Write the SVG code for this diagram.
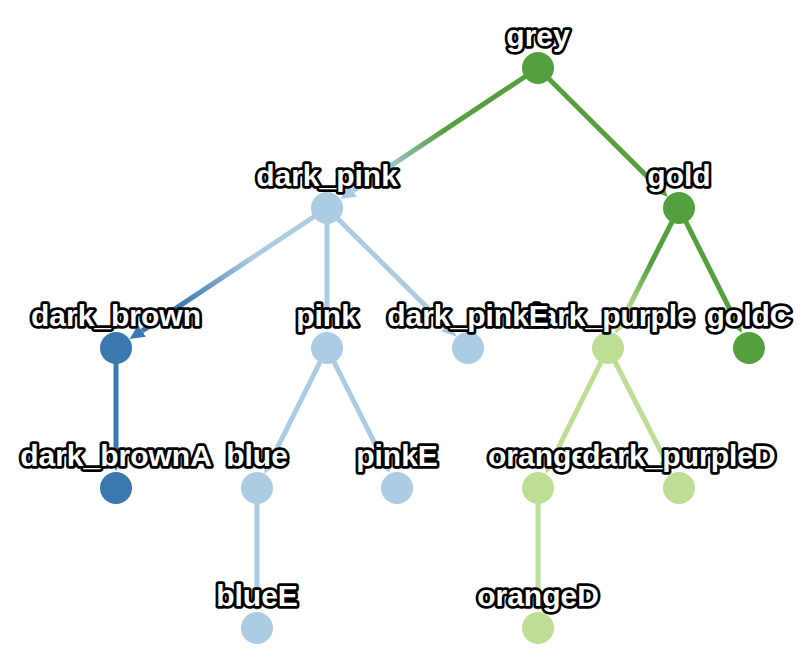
<svg xmlns="http://www.w3.org/2000/svg" width="808" height="660" viewBox="0 0 808 660">
<style>
.edge{fill:none;stroke-width:5;}
.lb{fill:#abcce2;}
.db{fill:#3c78b0;}
.lg{fill:#bede96;}
.dg{fill:#54a03e;}
.lbs{stroke:#abcce2;}
.dbs{stroke:#3c78b0;}
.lgs{stroke:#bede96;}
.dgs{stroke:#54a03e;}
text{font-family:"Liberation Sans",Arial,sans-serif;font-weight:bold;font-size:30px;fill:#fff;stroke:#000;stroke-width:5.5;stroke-linejoin:round;paint-order:stroke;text-anchor:middle;}
</style>
<defs>
<marker id="m-lb" markerUnits="userSpaceOnUse" markerWidth="16" markerHeight="14" refX="0" refY="7" orient="auto"><path d="M0,0 L15,7 L0,14 z" class="lb"/></marker>
<marker id="m-db" markerUnits="userSpaceOnUse" markerWidth="16" markerHeight="14" refX="0" refY="7" orient="auto"><path d="M0,0 L15,7 L0,14 z" class="db"/></marker>
<marker id="m-lg" markerUnits="userSpaceOnUse" markerWidth="16" markerHeight="14" refX="0" refY="7" orient="auto"><path d="M0,0 L15,7 L0,14 z" class="lg"/></marker>
<marker id="m-dg" markerUnits="userSpaceOnUse" markerWidth="16" markerHeight="14" refX="0" refY="7" orient="auto"><path d="M0,0 L15,7 L0,14 z" class="dg"/></marker>
<linearGradient id="g1" gradientUnits="userSpaceOnUse" x1="538" y1="68" x2="327" y2="208"><stop offset="0.45" stop-color="#54a03e"/><stop offset="0.75" stop-color="#abcce2"/></linearGradient>
<linearGradient id="g2" gradientUnits="userSpaceOnUse" x1="327" y1="208" x2="116" y2="348"><stop offset="0.35" stop-color="#abcce2"/><stop offset="0.7" stop-color="#3c78b0"/></linearGradient>
<linearGradient id="g3" gradientUnits="userSpaceOnUse" x1="679" y1="208" x2="608" y2="348"><stop offset="0.4" stop-color="#54a03e"/><stop offset="0.75" stop-color="#bede96"/></linearGradient>
</defs>
<g id="connectors">
<path class="edge" stroke="url(#g1)" d="M538,68 L353.0,190.8" marker-end="url(#m-lb)"/>
<path class="edge dgs" d="M538,68 L657.0,186.2" marker-end="url(#m-dg)"/>
<path class="edge" stroke="url(#g2)" d="M327,208 L142.0,330.8" marker-end="url(#m-db)"/>
<path class="edge lbs" d="M327,208 L327,316" marker-end="url(#m-lb)"/>
<path class="edge lbs" d="M327,208 L446.0,326.2" marker-end="url(#m-lb)"/>
<path class="edge" stroke="url(#g3)" d="M679,208 L622.1,320.4" marker-end="url(#m-lg)"/>
<path class="edge dgs" d="M679,208 L735.0,319.6" marker-end="url(#m-dg)"/>
<path class="edge dbs" d="M116,348 L116,456" marker-end="url(#m-db)"/>
<path class="edge lbs" d="M327,348 L271.1,460.3" marker-end="url(#m-lb)"/>
<path class="edge lbs" d="M327,348 L383.0,459.6" marker-end="url(#m-lb)"/>
<path class="edge lgs" d="M608,348 L552.1,460.3" marker-end="url(#m-lg)"/>
<path class="edge lgs" d="M608,348 L665.0,459.6" marker-end="url(#m-lg)"/>
<path class="edge lbs" d="M257,488 L257,596" marker-end="url(#m-lb)"/>
<path class="edge lgs" d="M538,488 L538,596" marker-end="url(#m-lg)"/>
</g>
<g id="node-grey"><circle cx="538" cy="68" r="16" class="dg"/><text x="538" y="46">grey</text></g>
<g id="node-dark_pink"><circle cx="327" cy="208" r="16" class="lb"/><text x="327" y="186">dark_pink</text></g>
<g id="node-gold"><circle cx="679" cy="208" r="16" class="dg"/><text x="679" y="186">gold</text></g>
<g id="node-dark_brown"><circle cx="116" cy="348" r="16" class="db"/><text x="116" y="326">dark_brown</text></g>
<g id="node-pink"><circle cx="327" cy="348" r="16" class="lb"/><text x="327" y="326">pink</text></g>
<g id="node-dark_purple"><circle cx="608" cy="348" r="16" class="lg"/><text x="608" y="326">dark_purple</text></g>
<g id="node-dark_pinkE"><circle cx="468" cy="348" r="16" class="lb"/><text x="468" y="326">dark_pinkE</text></g>
<g id="node-goldC"><circle cx="749" cy="348" r="16" class="dg"/><text x="749" y="326">goldC</text></g>
<g id="node-dark_brownA"><circle cx="116" cy="488" r="16" class="db"/><text x="116" y="466">dark_brownA</text></g>
<g id="node-blue"><circle cx="257" cy="488" r="16" class="lb"/><text x="257" y="466">blue</text></g>
<g id="node-pinkE"><circle cx="397" cy="488" r="16" class="lb"/><text x="397" y="466">pinkE</text></g>
<g id="node-orange"><circle cx="538" cy="488" r="16" class="lg"/><text x="538" y="466">orange</text></g>
<g id="node-dark_purpleD"><circle cx="679" cy="488" r="16" class="lg"/><text x="679" y="466">dark_purpleD</text></g>
<g id="node-blueE"><circle cx="257" cy="628" r="16" class="lb"/><text x="257" y="606">blueE</text></g>
<g id="node-orangeD"><circle cx="538" cy="628" r="16" class="lg"/><text x="538" y="606">orangeD</text></g>
</svg>
